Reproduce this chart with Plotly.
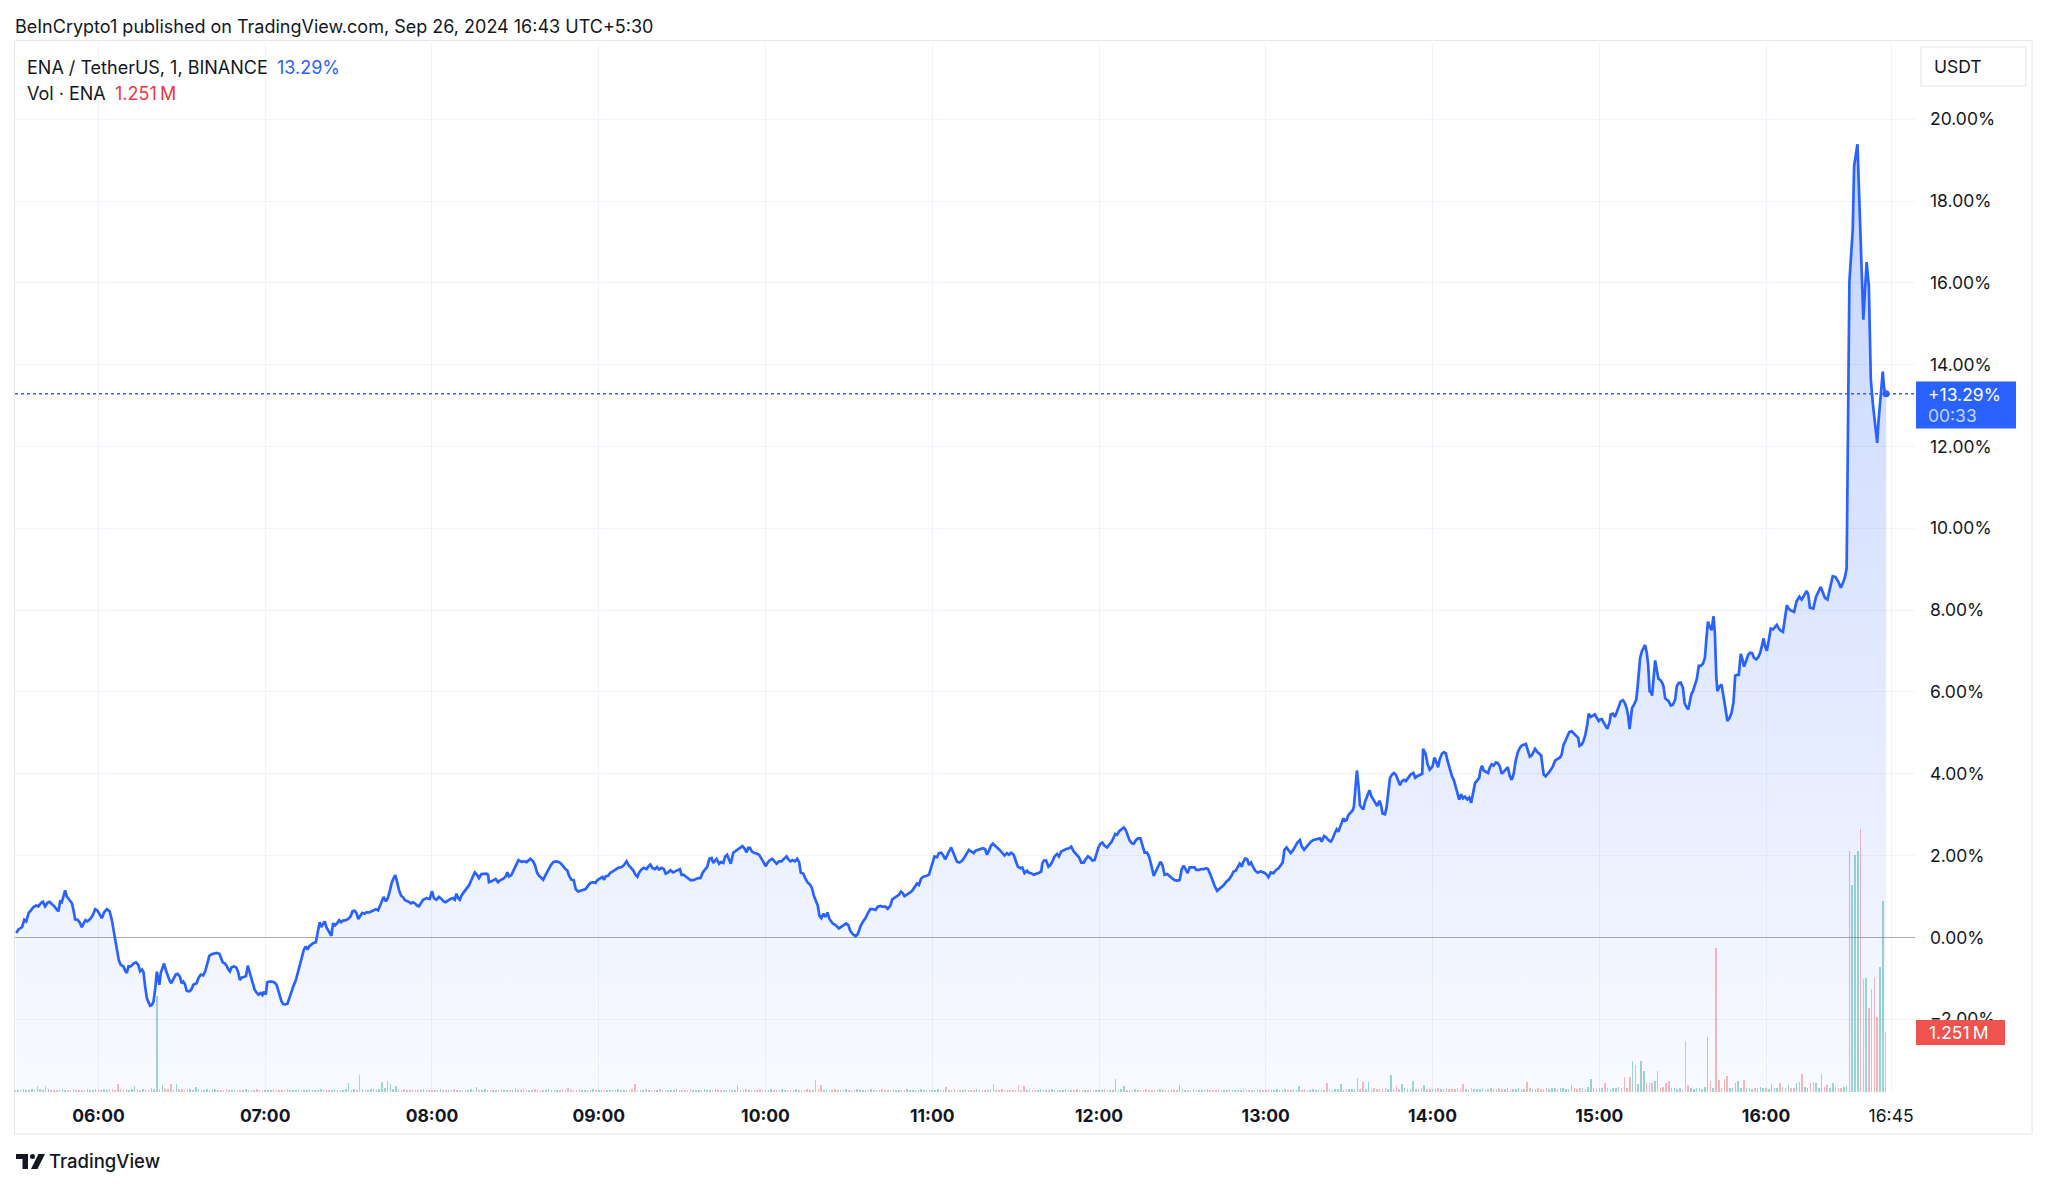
import datetime as dt
import numpy as np
import plotly.graph_objects as go

# ---------------- data ----------------
BASE = dt.datetime(2024, 9, 26, 5, 30)   # minutes below are counted from 05:30

segA_min = [0.4,1.3,2.5,3.3,4.0,4.9,5.7,6.6,7.6,8.4,
    9.3,10.0,10.8,11.7,12.4,13.2,14.1,15.0,15.6,16.2,
    16.8,17.4,18.0,18.6,19.6,20.4,21.0,21.6,22.5,23.2,
    24.0,24.6,25.3,26.0,27.0,28.0,28.8,29.6,30.4,31.2,
    32.0,33.0,34.0,34.8,35.4,36.0,36.6,37.3,38.0,39.0,
    39.6,40.2,40.8,41.6,42.6,43.5,44.3,45.0,45.7,46.2,
    46.8,47.4,48.0,48.6,49.2,49.8,50.4,51.0,51.6,51.9,
    52.4,53.1,53.6,54.2,54.8,55.5,56.2,56.9,57.8,58.5,
    59.3,59.9,60.5,61.1,61.7,62.3,62.9,63.5,64.1,64.7,
    65.3,66.0,66.8,67.7,68.4,69.2,69.9,70.7,71.6,72.5,
    73.5,73.9,74.7,75.5,76.1,76.7,77.3,77.9,78.7,79.5,
    80.2,80.9,81.6,82.3,83.1,83.7,84.3,84.7,85.4,86.2,
    86.9,87.6,88.3,89.0,89.5,90.2,90.7,91.4,92.4,93.3,
    94.1,94.7,95.3,95.9,96.5,97.2,98.0,98.6,99.5,100.3,
    101.0,101.7,102.5,103.2,103.9,104.6,105.2,105.8,106.6,107.2,
    108.2,108.7,109.2,109.6,110.2,110.8,111.4,112.0,112.6,113.2,
    113.8,114.4,115.1,115.9,116.6,117.3,118.0,119.0,119.8,120.7,
    121.4,122.2,122.8,123.5,124.2,124.9,125.7,126.4,127.4,128.2,
    129.0,129.8,130.6,131.2,131.9,132.6,133.4,134.1,134.8,135.5,
    136.2,136.8,137.4,138.1,138.9,139.6,140.3,141.0,141.7,142.4,
    143.2,143.9,144.6,145.3]
segA_pct = [0.11,0.20,0.25,0.43,0.39,0.60,0.66,0.74,0.78,0.76,
    0.84,0.87,0.76,0.85,0.87,0.82,0.76,0.68,0.64,0.88,
    0.86,1.00,1.15,1.00,0.92,0.84,0.67,0.44,0.43,0.37,
    0.25,0.35,0.42,0.39,0.45,0.55,0.69,0.66,0.58,0.47,
    0.61,0.69,0.64,0.43,0.19,-0.06,-0.30,-0.55,-0.67,-0.71,
    -0.81,-0.87,-0.71,-0.71,-0.64,-0.61,-0.67,-0.83,-0.79,-0.85,
    -1.20,-1.48,-1.59,-1.67,-1.65,-1.57,-1.26,-0.84,-1.04,-1.16,
    -0.87,-0.71,-0.64,-0.79,-0.91,-1.04,-1.12,-1.02,-0.91,-0.89,
    -0.96,-1.12,-1.08,-1.14,-1.30,-1.32,-1.31,-1.26,-1.16,-1.14,
    -1.12,-0.99,-0.91,-0.93,-0.83,-0.63,-0.45,-0.41,-0.39,-0.38,
    -0.40,-0.46,-0.61,-0.64,-0.69,-0.78,-0.83,-0.73,-0.71,-0.73,
    -0.83,-1.04,-0.98,-0.97,-0.94,-0.69,-0.83,-0.98,-1.12,-1.28,
    -1.35,-1.40,-1.36,-1.41,-1.32,-1.40,-1.10,-1.08,-1.08,-1.10,
    -1.16,-1.32,-1.44,-1.57,-1.63,-1.64,-1.62,-1.49,-1.32,-1.16,
    -1.05,-0.87,-0.67,-0.46,-0.30,-0.22,-0.30,-0.22,-0.18,-0.14,
    -0.12,0.02,0.23,0.37,0.25,0.33,0.39,0.25,0.17,0.11,
    0.04,0.35,0.29,0.35,0.42,0.37,0.41,0.42,0.45,0.51,
    0.64,0.65,0.60,0.45,0.53,0.60,0.58,0.61,0.61,0.64,
    0.68,0.69,0.66,0.76,0.88,0.99,0.88,0.96,1.13,1.33,
    1.45,1.52,1.37,1.16,1.02,0.98,0.91,0.89,0.87,0.83,
    0.86,0.83,0.78,0.76]

segB_min = [146.8,148.0,149.2,150.0,150.7,151.6,152.5,153.4,154.2,154.9,
    155.8,156.6,157.6,158.2,158.8,159.4,160.0,160.6,161.4,162.4,
    163.3,164.2,164.8,165.4,166.2,166.9,167.8,168.6,169.6,170.2,
    170.5,171.4,172.2,172.9,173.8,174.6,175.6,176.5,177.1,177.7,
    178.6,179.4,180.4,181.1,182.2,183.0,184.0,184.7,185.4,186.4,
    187.1,187.8,188.5,189.4,190.0,190.9,191.8,192.7,193.6,194.5,
    195.4,196.2,197.2,198.0,198.7,199.3,200.2,201.0,201.7,202.6,
    203.4,204.4,205.3,206.2,207.0,208.0,208.8,209.5,210.4,211.3,
    211.9,212.5,213.4,214.2,215.2,216.1,217.0,218.2,219.0,220.0,
    220.6,221.4,222.4,223.2,223.9,224.5,225.4,226.2,227.2,227.9,
    228.6,229.3,230.2,231.0,231.7,232.6,233.4,234.1,235.0,235.8,
    236.8,237.7,238.6,239.2,239.8,240.6,241.3,242.2,243.0,244.0,
    244.9,245.8,246.6,247.4,248.2,249.0,249.8,250.6,251.2,251.8,
    252.4,253.3,253.9,254.8,255.5,256.2,256.9,257.5,258.4,259.3,
    260.2,261.0,261.7,262.6,263.2,263.8,264.4,265.0,265.8,266.8,
    267.7,268.6,269.4,270.1,270.7,271.6,272.5,273.2,274.0,274.9,
    275.8,276.6,277.6,278.3,279.0,279.7,280.6,281.4,282.1,282.7,
    283.6,284.4,285.1,286.0,286.7,287.4,288.2,288.8,289.4,290.1,
    290.8,291.6,292.3,293.0]
segB_pct = [0.92,0.96,0.94,1.13,0.96,0.92,0.99,0.94,0.88,0.86,
    0.91,0.94,0.96,0.92,1.07,0.96,0.92,1.02,1.10,1.18,
    1.27,1.41,1.51,1.59,1.53,1.45,1.55,1.56,1.56,1.53,
    1.35,1.37,1.41,1.43,1.35,1.40,1.43,1.49,1.59,1.49,
    1.53,1.66,1.78,1.89,1.85,1.86,1.84,1.89,1.92,1.86,
    1.76,1.59,1.51,1.45,1.41,1.53,1.66,1.76,1.84,1.86,
    1.85,1.82,1.74,1.67,1.64,1.51,1.41,1.40,1.18,1.12,
    1.14,1.17,1.18,1.27,1.33,1.35,1.33,1.40,1.45,1.48,
    1.41,1.49,1.51,1.58,1.62,1.67,1.70,1.72,1.76,1.86,
    1.78,1.72,1.64,1.53,1.48,1.58,1.66,1.70,1.67,1.74,
    1.78,1.70,1.67,1.72,1.66,1.70,1.67,1.56,1.59,1.64,
    1.59,1.62,1.64,1.67,1.53,1.53,1.49,1.43,1.40,1.40,
    1.43,1.45,1.45,1.58,1.66,1.72,1.92,1.94,1.82,1.86,
    1.92,1.80,1.84,1.82,1.98,2.02,1.90,1.80,2.07,2.11,
    2.15,2.19,2.23,2.16,2.08,2.19,2.19,2.11,2.07,2.05,
    2.02,1.92,1.82,1.74,1.82,1.89,1.92,1.86,1.80,1.86,
    1.86,1.92,1.98,1.90,1.86,1.89,1.86,1.92,1.84,1.58,
    1.56,1.43,1.35,1.29,1.21,1.02,0.86,0.78,0.53,0.47,
    0.58,0.50,0.61,0.45]

segC_min = [294.2,295.2,296.4,297.2,298.1,299.0,299.8,300.5,301.4,302.4,
    303.2,304.1,305.0,306.0,306.8,307.7,308.6,309.6,310.4,311.3,
    312.2,313.2,314.0,314.9,315.6,316.4,317.3,318.0,318.8,319.4,
    320.0,320.9,321.8,322.8,323.6,324.5,325.2,326.0,326.9,327.8,
    328.8,329.6,330.2,330.8,331.7,332.4,333.2,333.8,334.7,335.3,
    336.0,336.8,337.4,338.2,338.9,339.8,340.8,341.6,342.5,343.2,
    344.0,344.9,345.6,346.4,347.3,348.2,349.0,349.7,350.4,351.1,
    351.8,352.8,353.6,354.5,355.2,356.0,356.9,357.6,358.4,359.3,
    360.0,360.8,361.7,362.4,363.2,364.1,364.8,365.6,366.5,367.4,
    368.4,369.2,369.6,370.2,371.0,371.8,372.5,373.2,374.0,374.9,
    375.6,376.4,377.3,378.2,379.2,380.0,380.9,381.8,382.8,383.6,
    384.5,385.2,386.0,386.9,387.6,388.4,389.0,389.8,390.5,391.2,
    392.0,392.9,393.6,394.4,395.0,395.8,396.5,397.2,398.0,398.9,
    399.6,400.3,401.0,401.8,402.5,403.2,404.0,404.9,405.6,406.4,
    407.3,408.0,408.8,409.7,410.4,411.2,412.1,412.8,413.6,414.5,
    415.4,416.4,417.2,418.1,419.0,419.8,420.5,421.2,421.9,422.6,
    423.6,424.4,425.0,426.0,426.8,427.7,428.6,429.2,430.1,430.8,
    431.6,432.5,433.2,434.0,434.9,435.8,436.8,437.6,438.4,439.2,
    440.0,440.6,441.4,441.8,442.6,443.3,444.0,444.7,445.4,446.2,
    447.1]
segC_pct = [0.34,0.30,0.22,0.26,0.30,0.34,0.30,0.16,0.08,0.03,
    0.08,0.26,0.38,0.47,0.59,0.69,0.69,0.67,0.75,0.77,
    0.75,0.75,0.70,0.77,0.93,0.96,1.01,1.04,1.12,1.08,
    1.01,1.04,1.09,1.14,1.22,1.32,1.28,1.44,1.49,1.50,
    1.53,1.73,1.89,1.98,1.96,2.06,2.07,2.02,1.91,2.02,
    2.10,2.20,2.10,1.98,1.85,1.83,1.88,1.96,2.06,2.14,
    2.10,2.06,2.12,2.14,2.16,2.18,2.16,2.02,2.12,2.24,
    2.29,2.24,2.18,2.12,2.06,2.00,2.06,2.02,2.07,2.02,
    1.88,1.73,1.69,1.71,1.57,1.63,1.58,1.57,1.53,1.55,
    1.58,1.61,1.81,1.88,1.88,1.73,1.77,1.85,1.98,2.04,
    1.98,2.10,2.14,2.16,2.18,2.22,2.10,2.02,1.96,1.83,
    1.83,1.91,1.98,1.94,1.88,1.89,2.04,2.20,2.29,2.32,
    2.24,2.20,2.26,2.32,2.40,2.53,2.51,2.59,2.64,2.69,
    2.63,2.48,2.37,2.30,2.29,2.37,2.42,2.42,2.26,2.07,
    2.07,1.98,1.77,1.50,1.61,1.73,1.85,1.77,1.53,1.55,
    1.49,1.44,1.40,1.39,1.40,1.67,1.75,1.67,1.57,1.71,
    1.71,1.71,1.65,1.65,1.67,1.67,1.69,1.67,1.53,1.40,
    1.26,1.14,1.18,1.22,1.28,1.36,1.42,1.50,1.61,1.63,
    1.73,1.80,1.73,1.83,1.93,1.91,1.77,1.83,1.73,1.63,
    1.58]

segD_min = [448.0,449.2,450.1,451.0,451.8,452.8,453.7,454.6,455.4,456.1,
    456.7,457.5,458.3,459.0,459.7,460.5,461.4,462.3,462.9,463.8,
    464.5,465.3,466.2,467.1,468.1,468.9,469.5,470.1,471.0,471.7,
    472.5,473.4,474.1,474.9,475.5,476.1,476.7,477.3,477.9,478.5,
    479.1,479.7,480.3,481.3,481.7,482.2,482.8,483.4,483.9,484.5,
    485.1,485.7,486.5,487.3,488.0,488.7,489.4,490.1,490.9,491.6,
    492.0,492.9,493.5,494.1,494.7,495.4,496.1,496.8,497.5,498.3,
    499.0,499.7,500.4,501.3,502.1,503.1,503.8,504.5,505.4,506.3,
    506.6,507.5,508.2,509.0,510.0,510.7,511.4,512.0,512.6,513.4,
    514.1,514.8,515.4,516.2,517.0,517.7,518.4,519.1,519.6,520.3,
    521.0,521.7,522.5,523.2,523.9,524.6,525.3,526.1,526.8,527.2,
    527.8,528.4,529.2,530.0,530.6,531.3,532.0,532.8,533.5,534.2,
    534.9,535.6,536.3,537.1,537.8,538.5,539.2,539.9,540.7,541.4,
    542.1,542.8,543.6,544.3,545.0,545.7,546.4,546.9,547.7,548.4,
    549.1,549.5,550.0,550.7,551.6]
segD_pct = [1.61,1.59,1.55,1.47,1.59,1.57,1.65,1.69,1.75,1.83,
    2.14,2.20,2.12,2.06,2.12,2.22,2.32,2.38,2.23,2.14,
    2.20,2.28,2.34,2.38,2.40,2.40,2.42,2.34,2.48,2.45,
    2.38,2.34,2.42,2.56,2.64,2.58,2.69,2.77,2.91,2.85,
    2.87,2.99,3.04,3.11,3.19,3.60,4.08,3.68,3.23,3.17,
    3.13,3.31,3.47,3.60,3.45,3.37,3.27,3.21,3.34,3.19,
    3.03,3.01,3.19,3.60,3.90,3.98,4.02,3.98,3.85,3.72,
    3.82,3.85,3.82,3.90,3.98,4.02,3.90,3.94,3.98,4.00,
    4.61,4.49,4.24,4.10,4.18,4.40,4.28,4.16,4.36,4.49,
    4.53,4.50,4.32,4.12,3.94,3.84,3.68,3.47,3.37,3.50,
    3.40,3.44,3.37,3.42,3.29,3.53,3.77,3.84,3.90,4.08,
    4.20,4.08,4.04,4.02,4.15,4.23,4.20,4.28,4.26,4.18,
    4.00,4.04,4.10,4.16,3.94,3.85,4.00,4.31,4.53,4.63,
    4.69,4.71,4.73,4.57,4.42,4.45,4.53,4.61,4.53,4.49,
    4.45,4.23,3.98,3.94,4.00]

segE_min = [552.3,553.3,554.1,554.9,555.9,556.5,557.1,557.8,558.5,559.2,
    560.1,560.9,561.7,562.4,562.9,563.7,564.3,565.0,565.7,566.2,
    566.9,567.7,568.4,569.1,569.8,570.3,570.9,571.5,572.2,572.9,
    573.7,574.1,574.9,575.6,576.3,577.0,577.7,578.5,579.2,579.9,
    580.4,580.9,581.4,581.8,582.5,583.3,583.7,584.2,584.7,585.3,
    585.9,586.5,587.1,587.6,588.1,588.7,589.0,589.5,590.1,590.7,
    591.3,591.9,592.6,593.1,593.7,594.3,595.0,595.7,596.5,597.3,
    597.9,598.6,599.3,600.1,600.7,601.3,602.0,602.5,603.1,603.7,
    604.4,605.1,605.8,606.5,607.3,608.0,608.5,609.1,609.7,610.4,
    611.1,611.6,612.1,612.5,613.3,614.0,614.7,615.4,616.1,616.9,
    617.6,618.3,618.9,619.5,620.2,620.9,621.4,622.1,622.9,623.6,
    624.3,625.0,625.7,626.5,627.2,627.9,628.6,629.1,629.7,630.3,
    631.0,631.7,632.5,633.2,633.9,634.6,635.3,636.1,636.8,637.5,
    638.1,638.7]
segE_pct = [4.07,4.18,4.32,4.36,4.40,4.48,4.70,4.80,4.92,5.02,
    5.04,4.99,4.94,4.88,4.68,4.72,4.80,4.96,5.21,5.47,
    5.39,5.43,5.45,5.37,5.29,5.33,5.34,5.26,5.18,5.10,
    5.25,5.45,5.47,5.39,5.51,5.65,5.77,5.80,5.73,5.59,
    5.41,5.09,5.37,5.61,5.69,5.81,6.06,6.46,6.83,6.99,
    7.07,7.15,6.95,6.66,6.02,5.98,5.91,6.34,6.77,6.54,
    6.32,6.30,6.23,6.14,5.85,5.81,5.77,5.67,5.69,5.81,
    6.14,6.22,6.23,6.10,5.73,5.64,5.57,5.73,5.94,6.02,
    6.15,6.32,6.64,6.64,6.69,6.83,7.27,7.72,7.60,7.51,
    7.85,7.43,6.38,6.02,6.14,6.18,5.89,5.57,5.29,5.37,
    5.49,5.75,6.40,6.42,6.42,6.93,6.83,6.62,6.79,6.91,
    6.96,6.95,6.83,6.80,6.85,6.96,7.15,7.31,7.11,7.01,
    7.27,7.55,7.53,7.58,7.64,7.55,7.50,7.47,7.80,8.12,
    8.04,8.00]

segF_min = [640.1,641.0,642.0,642.8,643.7,644.6,645.2,645.8,647.0,648.0,
    648.8,649.7,650.4,651.2,652.1,653.0,654.0,655.0,656.0,656.9,
    657.6,658.4,659.0,660.0,661.2,661.7,662.3,662.9,665.0,666.2,
    667.0,667.7,668.4,669.2,670.0,670.5,671.2,672.0,672.4,672.8,
    673.2]
segF_pct = [7.96,8.22,8.33,8.26,8.36,8.47,8.38,8.06,8.04,8.33,
    8.44,8.57,8.44,8.30,8.26,8.55,8.83,8.81,8.70,8.55,
    8.65,8.81,9.02,16.04,17.30,18.86,19.10,19.39,15.10,16.51,
    15.92,13.64,13.06,12.53,12.09,12.64,13.28,13.83,13.49,13.28,
    13.29]

# 1-minute volume, in hundredths of a million ENA, one row per half hour from 05:30
vol_hund = [
    4,5,4,6,5,4,7,5,12,6,5,12,6,5,4,5,4,6,5,4,5,6,4,5,4,5,6,4,5,7,
    5,4,6,5,7,6,5,16,6,5,7,5,6,12,6,5,7,6,5,8,7,200,6,14,7,6,16,5,16,7,
    6,5,7,6,5,10,6,5,4,6,5,7,6,5,4,5,6,5,4,6,5,4,5,6,5,4,5,6,4,5,
    5,4,5,6,4,5,4,5,6,5,4,5,6,4,5,4,6,5,4,5,6,4,5,4,5,6,4,5,4,6,
    19,5,6,5,35,7,6,5,6,7,5,6,21,8,23,17,7,12,6,5,6,5,4,6,5,4,5,6,4,5,
    4,5,4,6,4,5,4,5,6,4,5,4,5,4,6,4,10,4,5,6,4,5,4,5,4,6,4,5,4,5,
    9,4,5,6,4,5,4,6,5,4,5,4,6,5,4,5,4,6,5,9,5,4,5,6,4,5,4,5,6,4,
    5,4,6,5,4,5,4,6,5,4,5,4,6,17,5,4,5,6,4,5,4,5,6,4,5,4,5,4,6,5,
    4,5,4,6,5,4,5,4,6,5,4,5,6,4,5,4,5,6,4,5,14,5,4,6,5,4,5,4,6,5,
    4,5,6,4,5,4,6,5,4,5,4,6,5,4,5,6,4,5,26,6,14,5,7,5,4,6,5,4,5,6,
    4,5,4,6,5,4,5,4,6,5,4,5,6,4,5,4,6,5,4,5,4,6,5,4,5,4,6,5,4,5,
    5,4,6,5,4,10,5,4,6,5,4,5,6,4,5,4,6,5,4,5,4,6,17,5,4,6,5,4,5,4,
    5,14,5,12,4,6,5,4,5,6,4,5,4,6,5,4,5,4,6,5,4,5,6,4,5,4,5,6,4,5,
    5,4,6,5,4,5,28,5,6,12,5,4,5,6,4,5,4,6,5,4,5,4,6,5,4,5,6,4,5,14,
    6,4,5,4,6,5,4,5,4,6,5,4,5,6,4,5,4,6,5,4,5,4,6,5,4,5,4,6,5,4,
    5,6,4,5,6,4,5,6,4,5,6,4,12,5,6,4,5,6,5,4,6,5,19,6,5,7,6,16,5,6,
    6,7,6,30,7,21,7,21,6,8,7,6,7,8,7,35,7,12,7,16,8,7,6,23,7,6,8,14,7,6,
    7,6,8,7,6,8,7,6,7,8,6,17,7,6,8,7,6,7,8,6,7,8,6,7,8,7,6,8,7,6,
    7,8,6,7,21,8,7,6,8,7,6,8,7,9,8,6,9,8,7,6,14,8,7,9,8,6,10,27,8,7,
    8,9,18,8,7,9,8,10,9,31,9,32,65,56,17,65,44,18,18,19,23,44,9,11,18,23,9,8,7,8,
    7,106,15,8,7,9,8,7,10,114,23,8,299,25,9,28,33,8,9,19,23,8,25,9,8,7,9,8,10,8,
    8,7,17,9,8,19,10,9,15,8,9,18,21,37,10,9,19,21,19,9,37,10,15,9,18,10,9,8,10,12,
    502,431,493,502,547,236,237,174,214,240,156,260,397,125.1,
]

hour_labels = ["06:00","07:00","08:00","09:00","10:00","11:00",
               "12:00","13:00","14:00","15:00","16:00"]
end_label = "16:45"
pct_ticks = [-2, 0, 2, 4, 6, 8, 10, 12, 14, 16, 18, 20]
countdown = "00:33"

# ---------------- derived ----------------
price_min = segA_min + segB_min + segC_min + segD_min + segE_min + segF_min
price_pct = segA_pct + segB_pct + segC_pct + segD_pct + segE_pct + segF_pct
vol_min = np.arange(len(vol_hund))
vol_m = np.array(vol_hund, dtype=float) / 100.0

times = [BASE + dt.timedelta(minutes=m) for m in price_min]
vtimes = [BASE + dt.timedelta(minutes=int(m)) for m in vol_min]

p_now = np.interp(vol_min, price_min, price_pct)
p_prev = np.interp(vol_min - 1, price_min, price_pct)
UP, DOWN = "rgba(38,166,154,0.45)", "rgba(239,83,80,0.40)"
vol_colors = [UP if a >= b else DOWN for a, b in zip(p_now, p_prev)]

last_pct = price_pct[-1]
last_vol = vol_m[-1]

# ---------------- geometry / style ----------------
W, H = 2048, 1188
ML, MR, MT, MB = 15, 133, 40, 96
PW, PH = W - ML - MR, H - MT - MB
def px(x):
    return (x - ML) / PW
def py(y):
    return (H - MB - y) / PH

YMIN, YMAX = -3.78, 21.94
VOL_TOP = PH / 48.0          # 48 px per million
FONT = "Inter, 'Noto Sans', Roboto, sans-serif"
TXT = "#131722"
BLUE = "#2962ff"
RED = "#ef5350"

x_start = BASE - dt.timedelta(seconds=2)
x_end = BASE + dt.timedelta(minutes=683.6)

tickvals = [dt.datetime(2024, 9, 26, int(h[:2]), 0) for h in hour_labels] + \
           [dt.datetime(2024, 9, 26, int(end_label[:2]), int(end_label[3:]))]
ticktext = ["<b>%s</b>" % h for h in hour_labels] + [end_label]
pct_text = [("−%.2f%%" % abs(v)) if v < 0 else ("%.2f%%" % v) for v in pct_ticks]

fig = go.Figure()

fig.add_trace(go.Bar(
    x=vtimes, y=vol_m, yaxis="y", width=33000,
    marker=dict(color=vol_colors, line=dict(width=0)),
    hoverinfo="skip"))

fig.add_trace(go.Scatter(
    x=[times[0], times[-1]], y=[YMIN, YMIN], yaxis="y2", mode="lines",
    line=dict(width=0, color="rgba(0,0,0,0)"), hoverinfo="skip"))

fig.add_trace(go.Scatter(
    x=times, y=price_pct, yaxis="y2", mode="lines",
    line=dict(color=BLUE, width=2.7),
    fill="tonexty", fillcolor="rgba(41,98,255,0.10)",
    fillgradient=dict(type="vertical", start=YMIN, stop=max(price_pct),
                      colorscale=[[0, "rgba(41,98,255,0.03)"],
                                  [1, "rgba(41,98,255,0.27)"]]),
    hoverinfo="skip"))

fig.add_trace(go.Scatter(
    x=[times[-1]], y=[last_pct], yaxis="y2", mode="markers",
    marker=dict(color=BLUE, size=7), hoverinfo="skip"))

shapes = [
    # last price dotted line
    dict(type="line", xref="paper", yref="y2", x0=0, x1=1, y0=last_pct, y1=last_pct,
         line=dict(color=BLUE, width=1.4, dash="dot"), layer="above"),
    # outer frame
    dict(type="rect", xref="paper", yref="paper", x0=px(14.5), x1=px(2032),
         y0=py(1134), y1=py(40.5), line=dict(color="#e3e6ec", width=1), layer="below"),
    # USDT button
    dict(type="rect", xref="paper", yref="paper", x0=px(1921), x1=px(2026),
         y0=py(86), y1=py(47), line=dict(color="#e6e8ee", width=1.2),
         fillcolor="white", layer="above"),
    # price label box
    dict(type="rect", xref="paper", yref="paper", x0=px(1916), x1=px(2016),
         y0=py(428.5), y1=py(381.5), line=dict(width=0), fillcolor=BLUE, layer="above"),
    # volume label box
    dict(type="rect", xref="paper", yref="paper", x0=px(1916), x1=px(2005),
         y0=py(1045), y1=py(1020), line=dict(width=0), fillcolor=RED, layer="above"),
    # TradingView logo
    dict(type="rect", xref="paper", yref="paper", x0=px(16), x1=px(28),
         y0=py(1159), y1=py(1154), line=dict(width=0), fillcolor=TXT, layer="above"),
    dict(type="rect", xref="paper", yref="paper", x0=px(22.5), x1=px(28),
         y0=py(1169), y1=py(1154), line=dict(width=0), fillcolor=TXT, layer="above"),
    dict(type="circle", xref="paper", yref="paper", x0=px(30), x1=px(35),
         y0=py(1159), y1=py(1154), line=dict(width=0), fillcolor=TXT, layer="above"),
    dict(type="path", xref="paper", yref="paper",
         path="M %f,%f L %f,%f L %f,%f L %f,%f Z" % (
             px(38.5), py(1154), px(45), py(1154), px(37.5), py(1169), px(31), py(1169)),
         line=dict(width=0), fillcolor=TXT, layer="above"),
]

def ann(x, y, text, size=18, color=TXT, xanchor="left", weight=None):
    f = dict(family=FONT, size=size, color=color)
    if weight:
        f["weight"] = weight
    return dict(xref="paper", yref="paper", x=px(x), y=py(y), text=text,
                showarrow=False, xanchor=xanchor, yanchor="middle", font=f)

annotations = [
    ann(12.5, 26.5, "BeInCrypto1 published on TradingView.com, Sep 26, 2024 16:43 UTC+5:30"),
    ann(24.5, 67.5, "ENA / TetherUS, 1, BINANCE"),
    ann(274.5, 67.5, "%.2f%%" % last_pct, color=BLUE),
    ann(24.5, 93, "Vol · ENA"),
    ann(113, 93, "%.3f\u202fM" % last_vol, color="#f23645"),
    ann(1932, 66.5, "USDT", size=17.5),
    ann(1926, 395, "+%.2f%%" % last_pct, size=17.5, color="white"),
    ann(1926, 415.5, countdown, size=17.5, color="rgba(255,255,255,0.72)"),
    ann(1927, 1032.5, "%.3f\u202fM" % last_vol, size=17.5, color="white"),
    ann(47, 1161, "TradingView", size=18.5, weight=500),
]

fig.update_layout(
    width=W, height=H,
    margin=dict(l=ML, r=MR, t=MT, b=MB, pad=0),
    paper_bgcolor="white", plot_bgcolor="white",
    showlegend=False, bargap=0,
    font=dict(family=FONT, color=TXT, size=17),
    xaxis=dict(type="date", range=[x_start, x_end], tickvals=tickvals, ticktext=ticktext,
               showgrid=True, gridcolor="#f0f3fa", gridwidth=1, zeroline=False,
               showline=False, ticks="", ticklabelstandoff=11,
               tickfont=dict(family=FONT, size=17.5, color=TXT), automargin=False),
    yaxis=dict(range=[0, VOL_TOP], visible=False, showgrid=False, zeroline=False,
               fixedrange=True),
    yaxis2=dict(overlaying="y", side="right", range=[YMIN, YMAX],
                tickvals=pct_ticks, ticktext=pct_text,
                showgrid=True, gridcolor="#f0f3fa", gridwidth=1,
                zeroline=True, zerolinecolor="#a9acb5", zerolinewidth=1.4,
                showline=False, ticks="", ticklabelstandoff=14,
                tickfont=dict(family=FONT, size=17.5, color=TXT), automargin=False),
    shapes=shapes, annotations=annotations,
)

fig.write_html("out.html", config={"displayModeBar": False},
               post_script="document.body.style.margin='0';document.body.style.overflow='hidden';")
